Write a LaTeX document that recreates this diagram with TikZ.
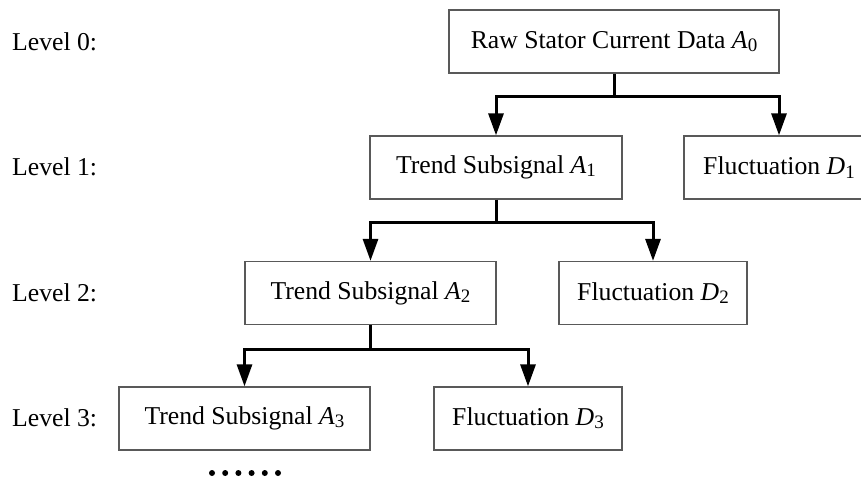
\documentclass[tikz,border=0pt]{standalone}
\usepackage{fontspec}
\setmainfont{Liberation Serif}
\usetikzlibrary{arrows.meta}

% italic signal name with an upright lowered index
\newcommand\signame[2]{\textit{#1}\raisebox{-0.28ex}{\fontsize{19}{20}\selectfont #2}}

\begin{document}
\begin{tikzpicture}[x=1pt,y=-1pt,
  every node/.style={font=\fontsize{25.7}{30}\selectfont},
  blk/.style={draw=black!65, line width=1.3pt, minimum height=63pt, inner sep=0pt},
  lvl/.style={anchor=west, inner sep=0pt},
  trunk/.style={line width=3pt, line join=miter},
  branch/.style={line width=3pt, line join=miter,
    -{Triangle[length=22pt,width=15pt]}}]

  \useasboundingbox (0,0) rectangle (861,479);
  \clip (0,0) rectangle (861,479);

  % level captions
  \node[lvl] (l0) at (12,42)  {Level 0:};
  \node[lvl] (l1) at (12,167) {Level 1:};
  \node[lvl] (l2) at (12,293) {Level 2:};
  \node[lvl] (l3) at (12,418) {Level 3:};

  % decomposition boxes
  \node[blk, minimum width=330pt] (a0) at (614,41.5)  {Raw Stator Current Data \signame{A}{0}};
  \node[blk, minimum width=252pt] (a1) at (496,167.5) {Trend Subsignal \signame{A}{1}};
  \node[blk, minimum width=190pt] (d1) at (779,167.5) {Fluctuation \signame{D}{1}};
  \node[blk, minimum width=251pt] (a2) at (370.5,293) {Trend Subsignal \signame{A}{2}};
  \node[blk, minimum width=188pt] (d2) at (653,293)   {Fluctuation \signame{D}{2}};
  \node[blk, minimum width=251pt] (a3) at (244.5,418.5) {Trend Subsignal \signame{A}{3}};
  \node[blk, minimum width=188pt] (d3) at (528,418.5)   {Fluctuation \signame{D}{3}};

  % splitting connectors
  \draw[trunk] (a0.south) -- ++(0,23) coordinate (j0);
  \draw[branch] (j0) -| (a1.north);
  \draw[branch] (j0) -| (d1.north);

  \draw[trunk] (a1.south) -- ++(0,23) coordinate (j1);
  \draw[branch] (j1) -| (a2.north);
  \draw[branch] (j1) -| (d2.north);

  \draw[trunk] (a2.south) -- ++(0,24) coordinate (j2);
  \draw[branch] (j2) -| (a3.north);
  \draw[branch] (j2) -| (d3.north);

  % continuation dots below the last level
  \foreach \i in {0,...,5}
    \fill ({212+13.2*\i},473) circle (3pt);
\end{tikzpicture}
\end{document}
